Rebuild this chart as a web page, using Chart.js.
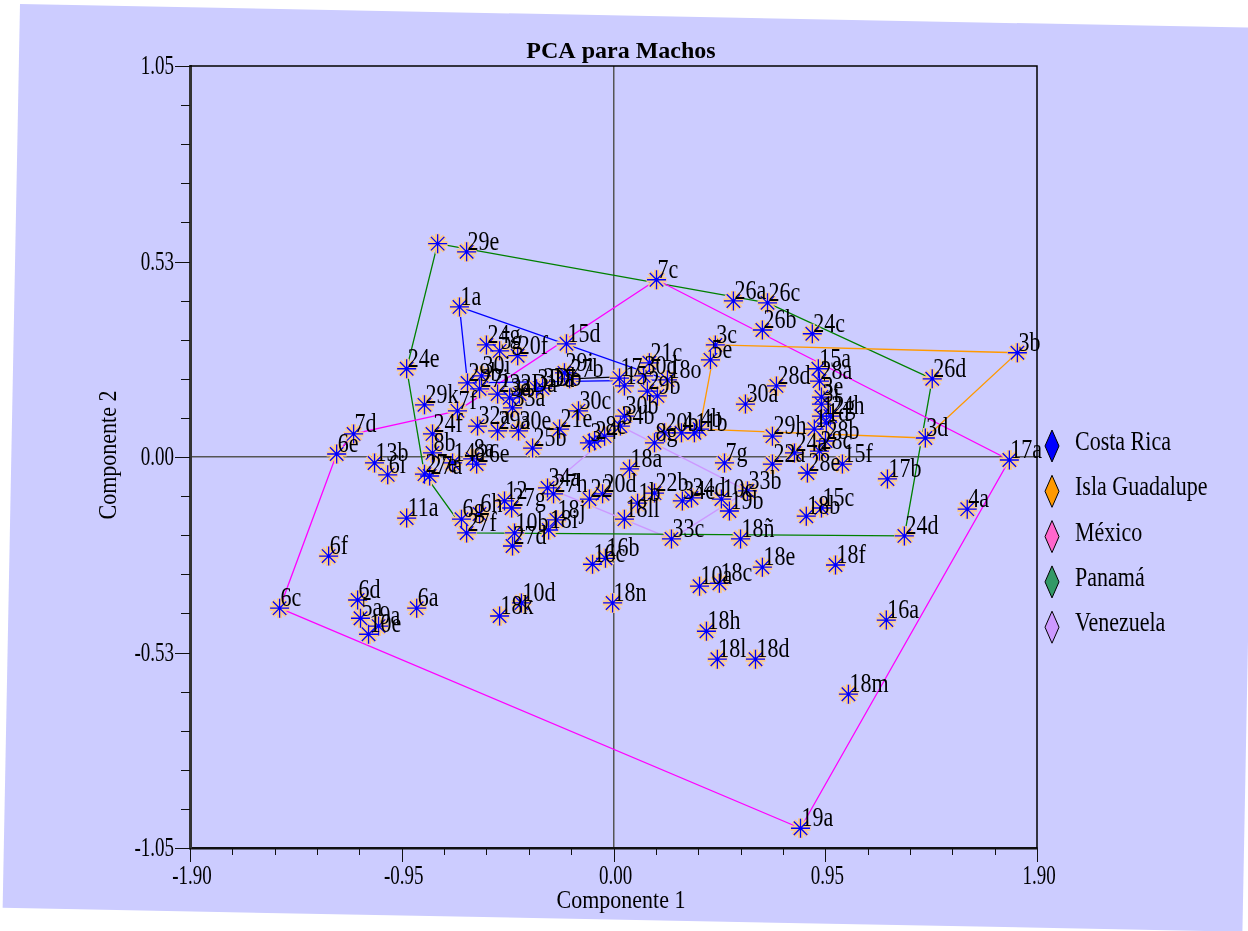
<!DOCTYPE html>
<html>
<head>
<meta charset="utf-8">
<script src="https://cdn.jsdelivr.net/npm/chart.js@4.4.1/dist/chart.umd.min.js"></script>
<style>
html, body { margin: 0; padding: 0; background: #fff; width: 1248px; height: 931px; overflow: hidden; }
#bg { position: absolute; left: 20px; top: 4px; width: 1240px; height: 904px; background: #ccccff;
      transform-origin: 0 0; transform: rotate(1.1deg); }
#c { position: absolute; left: 0; top: 0; }
</style>
</head>
<body>
<div id="bg"></div>
<canvas id="c" width="1248" height="931"></canvas>
<script>
// point names and scores
const pointLabels = ["","29e","1a","24e","24g","5g","20f","30i","29b","27i","23a","3a","33a","2Da","3Db","3Da",
  "29k","7f","32a","29a","30e","25b","24f","7d","6e","13b","6i","8b","27e","27a","14a","8a","26e",
  "11a","6g","6h","27f","12","27g","10b","27d","6f","6c","6d","5a","9a","10e","6a","18k","10d",
  "15d","29i","27b","30c","21e","17","15","21c","30d","18o","2","9b","30b","34b","8c","24","3",
  "20b","4","4b","11b","8g","7g","3c","5e","7c","26a","26c","26b","24c","3b","26d","3d","17a","17b",
  "15a","28a","28d","30a","3e","3i","12g","24h","1d","1","29h","28b","24a","28c","22a","28e","15f",
  "15c","18b","24d","4a","18ñ","33c","18e","18f","10a","18c","16a","18h","18l","18d","18m","19a","18n",
  "33b","19b","10c","34d","34c","22b","1b","18a","18ll","20d","22","34a","27h","18j","18i","16b","16c"];
const comp1 = [-0.789,-0.659,-0.691,-0.928,-0.570,-0.511,-0.430,-0.592,-0.655,-0.601,-0.520,-0.466,-0.453,-0.422,-0.318,-0.345,
  -0.848,-0.700,-0.610,-0.520,-0.426,-0.363,-0.812,-1.166,-1.242,-1.072,-1.013,-0.812,-0.848,-0.825,-0.722,-0.632,-0.614,
  -0.928,-0.682,-0.601,-0.659,-0.489,-0.457,-0.444,-0.453,-1.278,-1.498,-1.148,-1.135,-1.054,-1.099,-0.883,-0.511,-0.413,
  -0.211,-0.220,-0.197,-0.157,-0.242,0.027,0.049,0.161,0.135,0.242,0.152,0.197,0.049,0.031,-0.040,-0.085,-0.108,
  0.229,0.305,0.386,0.363,0.184,0.498,0.457,0.435,0.193,0.538,0.691,0.668,0.892,1.812,1.430,1.399,1.776,1.229,
  0.919,0.924,0.731,0.592,0.933,0.933,0.933,0.973,0.955,0.901,0.713,0.951,0.812,0.924,0.713,0.870,1.027,
  0.933,0.865,1.305,1.587,0.570,0.260,0.668,0.996,0.386,0.475,1.224,0.417,0.466,0.637,1.054,0.839,-0.004,
  0.601,0.520,0.484,0.350,0.309,0.184,0.108,0.072,0.049,-0.049,-0.108,-0.296,-0.269,-0.256,-0.291,-0.036,-0.094];
const comp2 = [0.573,0.551,0.403,0.237,0.301,0.285,0.272,0.218,0.199,0.183,0.169,0.159,0.132,0.169,0.185,0.183,
  0.140,0.124,0.083,0.070,0.070,0.024,0.062,0.062,0.008,-0.016,-0.048,0.011,-0.046,-0.051,-0.016,-0.005,-0.019,
  -0.164,-0.167,-0.153,-0.204,-0.118,-0.137,-0.204,-0.239,-0.266,-0.406,-0.384,-0.433,-0.454,-0.476,-0.406,-0.427,-0.392,
  0.304,0.226,0.210,0.124,0.075,0.212,0.191,0.253,0.218,0.207,0.177,0.164,0.110,0.083,0.056,0.043,0.038,
  0.065,0.065,0.075,0.065,0.038,-0.016,0.301,0.261,0.476,0.419,0.414,0.341,0.331,0.280,0.210,0.051,-0.008,-0.059,
  0.237,0.204,0.191,0.142,0.161,0.142,0.110,0.110,0.091,0.075,0.056,0.043,0.011,0.016,-0.019,-0.043,-0.019,
  -0.137,-0.159,-0.212,-0.140,-0.220,-0.220,-0.296,-0.290,-0.347,-0.339,-0.438,-0.468,-0.543,-0.543,-0.637,-0.997,-0.392,
  -0.091,-0.145,-0.113,-0.110,-0.118,-0.097,-0.124,-0.032,-0.167,-0.099,-0.113,-0.083,-0.099,-0.169,-0.196,-0.272,-0.288];

const xTickValues = [-1.9, -0.95, 0, 0.95, 1.9];
const xTickLabels = ["-1.90", "-0.95", "0.00", "0.95", "1.90"];
const yTickValues = [-1.05, -0.525, 0, 0.525, 1.05];
const yTickLabels = ["-1.05", "-0.53", "0.00", "0.53", "1.05"];

const groupNames = ["Costa Rica", "Isla Guadalupe", "México", "Panamá", "Venezuela"];
const groupColors = ["#0000ff", "#ff9900", "#ff66cc", "#339966", "#cc99ff"];
const hullColors = ["#0000ff", "#ff9900", "#ff00ff", "#008000", "#cc99ff"];
// convex hull outlines, by point name
const hulls = [
  ["1a", "18o", "29b"],
  ["3c", "3b", "3d", "4b"],
  ["7c", "17a", "19a", "6c", "6e", "7d", "7f"],
  ["", "26c", "26d", "24d", "27f", "27e", "24e"],
  ["34a", "34b", "33b", "33c"]
];
const blackSegments = [["7d", "6e"], ["27b", "30d"]];

function pt(name) {
  const i = pointLabels.indexOf(name);
  return { x: comp1[i], y: comp2[i] };
}
const points = comp1.map((x, i) => ({ x: x, y: comp2[i] }));

function stretchText(ctx, text, x, y, size, sy, align, bold) {
  ctx.save();
  ctx.translate(x, y);
  ctx.scale(1, sy);
  ctx.font = (bold ? 'bold ' : '') + size + 'px "Liberation Serif"';
  ctx.textAlign = align;
  ctx.textBaseline = 'alphabetic';
  ctx.fillStyle = '#000';
  ctx.fillText(text, 0, 0);
  ctx.restore();
}

const datasets = [];
hulls.forEach((h, g) => {
  const d = h.map(pt);
  d.push(pt(h[0]));
  datasets.push({ type: 'line', label: groupNames[g], data: d, borderColor: hullColors[g],
    backgroundColor: groupColors[g], borderWidth: 1.3, pointRadius: 0, fill: false, tension: 0, order: 3 });
});
blackSegments.forEach(s => {
  datasets.push({ type: 'line', label: 'otros', data: [pt(s[0]), pt(s[1])], borderColor: '#000', borderWidth: 1.2,
    pointRadius: 0, fill: false, order: 3 });
});
datasets.push({ type: 'scatter', label: 'sombra', data: points, pointStyle: 'star', pointRadius: 10,
  borderWidth: 5, borderColor: '#f9c88e', backgroundColor: '#f9c88e', order: 2 });
datasets.push({ type: 'scatter', label: 'puntos', data: points, pointStyle: 'star', pointRadius: 9.5,
  borderWidth: 1.3, borderColor: '#0000ff', backgroundColor: '#0000ff', order: 1 });

const decor = {
  id: 'decor',
  afterDatasetsDraw(chart) {
    const ctx = chart.ctx;
    const xs = chart.scales.x, ys = chart.scales.y;
    const a = chart.chartArea;
    // frame
    ctx.save();
    ctx.strokeStyle = '#000';
    ctx.lineWidth = 1.5;
    ctx.beginPath();
    ctx.moveTo(a.left, a.top); ctx.lineTo(a.right, a.top); ctx.lineTo(a.right, a.bottom);
    ctx.stroke();
    // tick marks
    ctx.lineWidth = 1;
    ctx.strokeStyle = '#111';
    for (let k = 0; k <= 20; k++) {
      const v = -1.9 + k * 0.19;
      const px = Math.round(xs.getPixelForValue(v)) + 0.5;
      ctx.beginPath();
      ctx.moveTo(px, a.bottom); ctx.lineTo(px, a.bottom + (k % 5 === 0 ? 14 : 7));
      ctx.stroke();
    }
    for (let k = 0; k <= 20; k++) {
      const v = -1.05 + k * 0.105;
      const py = Math.round(ys.getPixelForValue(v)) + 0.5;
      ctx.beginPath();
      ctx.moveTo(a.left, py); ctx.lineTo(a.left - (k % 5 === 0 ? 15 : 9), py);
      ctx.stroke();
    }
    ctx.restore();
    // point names
    points.forEach((p, i) => {
      if (!pointLabels[i]) return;
      stretchText(ctx, pointLabels[i], xs.getPixelForValue(p.x) + 1, ys.getPixelForValue(p.y) - 2, 22, 1.25, 'left');
    });
    // tick labels
    xTickValues.forEach((v, i) => stretchText(ctx, xTickLabels[i], xs.getPixelForValue(v) + 2, a.bottom + 36, 19, 1.4, 'center'));
    yTickValues.forEach((v, i) => stretchText(ctx, yTickLabels[i], a.left - 16, ys.getPixelForValue(v) + 8, 19, 1.4, 'right'));
    // titles
    stretchText(ctx, 'PCA para Machos', 621, 58, 24, 1, 'center', true);
    stretchText(ctx, 'Componente 1', 621, 908, 22, 1.15, 'center');
    ctx.save();
    ctx.translate(116, 455);
    ctx.rotate(-Math.PI / 2);
    stretchText(ctx, 'Componente 2', 0, 0, 22, 1.15, 'center');
    ctx.restore();
    // legend
    groupNames.forEach((name, g) => {
      const cy = 446 + g * 45.3;
      ctx.save();
      ctx.beginPath();
      ctx.moveTo(1052, cy - 16); ctx.lineTo(1059, cy); ctx.lineTo(1052, cy + 16); ctx.lineTo(1045, cy);
      ctx.closePath();
      ctx.fillStyle = chart.data.datasets[g].backgroundColor;
      ctx.fill();
      ctx.strokeStyle = '#000';
      ctx.lineWidth = 1;
      ctx.stroke();
      ctx.restore();
      stretchText(ctx, name, 1075, cy + 4, 22, 1.25, 'left');
    });
  }
};

new Chart(document.getElementById('c'), {
  type: 'scatter',
  data: { datasets: datasets },
  options: {
    responsive: false,
    animation: false,
    events: [],
    layout: { padding: { top: 66, right: 211, left: 0, bottom: 0 } },
    plugins: { legend: { display: false }, tooltip: { enabled: false }, title: { display: false } },
    scales: {
      x: {
        type: 'linear', min: -1.9, max: 1.9,
        afterBuildTicks: s => { s.ticks = xTickValues.map(v => ({ value: v })); },
        afterFit: s => { s.height = 83; },
        ticks: { display: false },
        grid: { drawTicks: false, lineWidth: 1.5,
          color: c => (c.tick && Math.abs(c.tick.value) < 1e-9) ? '#555' : 'rgba(0,0,0,0)' },
        border: { display: true, color: '#111', width: 2.5 }
      },
      y: {
        type: 'linear', min: -1.05, max: 1.05,
        afterBuildTicks: s => { s.ticks = yTickValues.map(v => ({ value: v })); },
        afterFit: s => { s.width = 190; },
        ticks: { display: false },
        grid: { drawTicks: false, lineWidth: 1.5,
          color: c => (c.tick && Math.abs(c.tick.value) < 1e-9) ? '#555' : 'rgba(0,0,0,0)' },
        border: { display: true, color: '#333', width: 3 }
      }
    }
  },
  plugins: [decor]
});
</script>
</body>
</html>
